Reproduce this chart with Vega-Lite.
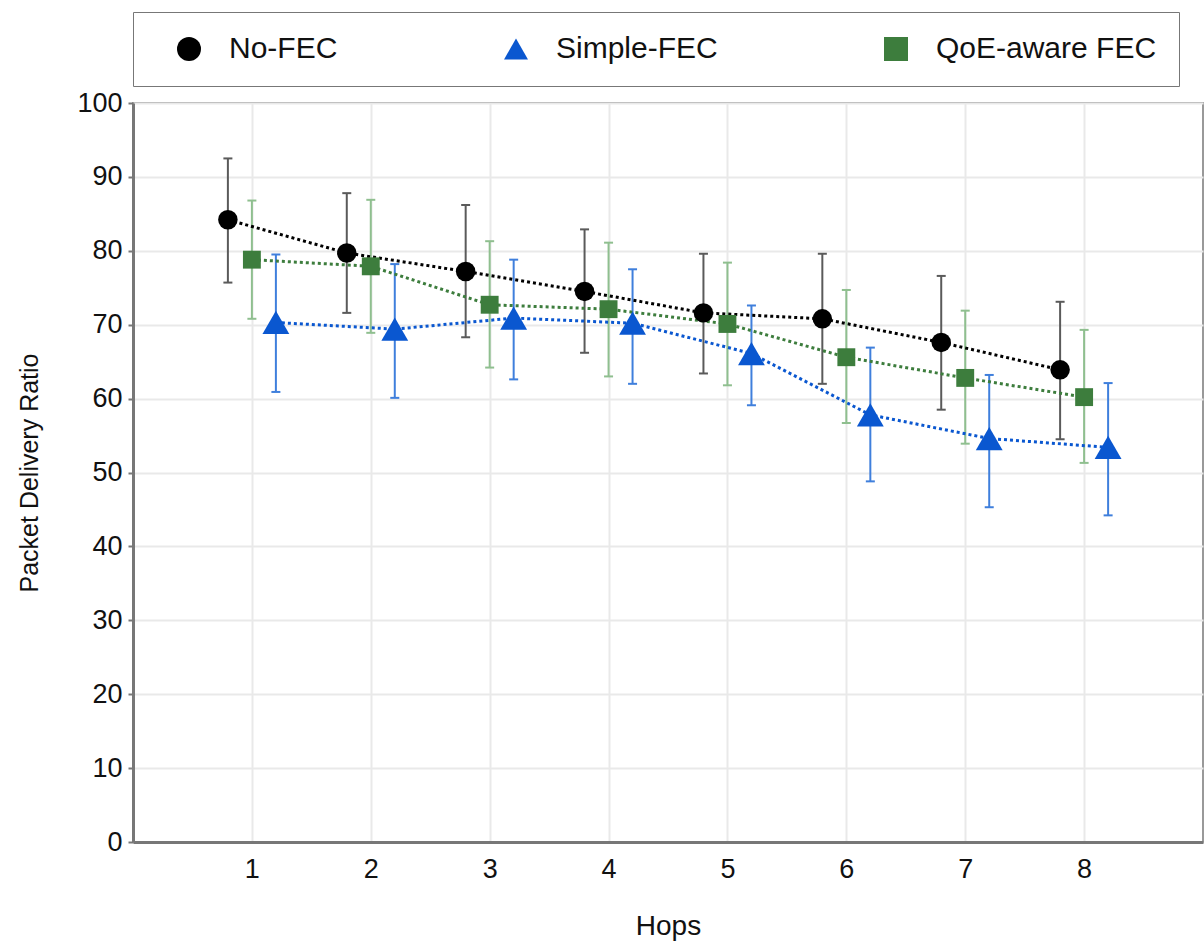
{
  "$schema": "https://vega.github.io/schema/vega-lite/v6.json",
  "width": 1070,
  "height": 739,
  "autosize": "none",
  "padding": {"left": 133, "top": 103, "right": 1, "bottom": 106},
  "background": "white",
  "config": {
    "font": "Liberation Sans",
    "view": {"stroke": "#999", "strokeWidth": 2},
    "axis": {
      "gridColor": "#e9e9e9", "gridWidth": 2,
      "domainColor": "#777", "domainWidth": 3,
      "labelFont": "Liberation Sans", "labelFontSize": 27, "labelColor": "#111",
      "titleFont": "Liberation Sans", "titleFontWeight": "normal", "titleColor": "#111",
      "tickColor": "#777", "tickWidth": 2
    }
  },
  "data": {
    "values": [
      {"hop": 1, "series": "No-FEC", "mean": 84.2, "lo": 75.7, "hi": 92.5},
      {"hop": 2, "series": "No-FEC", "mean": 79.7, "lo": 71.6, "hi": 87.8},
      {"hop": 3, "series": "No-FEC", "mean": 77.2, "lo": 68.3, "hi": 86.2},
      {"hop": 4, "series": "No-FEC", "mean": 74.5, "lo": 66.2, "hi": 82.9},
      {"hop": 5, "series": "No-FEC", "mean": 71.6, "lo": 63.4, "hi": 79.6},
      {"hop": 6, "series": "No-FEC", "mean": 70.8, "lo": 62.0, "hi": 79.6},
      {"hop": 7, "series": "No-FEC", "mean": 67.6, "lo": 58.5, "hi": 76.6},
      {"hop": 8, "series": "No-FEC", "mean": 63.9, "lo": 54.5, "hi": 73.1},
      {"hop": 1, "series": "QoE-aware FEC", "mean": 78.8, "lo": 70.8, "hi": 86.8},
      {"hop": 2, "series": "QoE-aware FEC", "mean": 77.9, "lo": 68.9, "hi": 86.9},
      {"hop": 3, "series": "QoE-aware FEC", "mean": 72.7, "lo": 64.2, "hi": 81.3},
      {"hop": 4, "series": "QoE-aware FEC", "mean": 72.1, "lo": 63.0, "hi": 81.1},
      {"hop": 5, "series": "QoE-aware FEC", "mean": 70.1, "lo": 61.8, "hi": 78.4},
      {"hop": 6, "series": "QoE-aware FEC", "mean": 65.6, "lo": 56.7, "hi": 74.7},
      {"hop": 7, "series": "QoE-aware FEC", "mean": 62.8, "lo": 53.9, "hi": 71.9},
      {"hop": 8, "series": "QoE-aware FEC", "mean": 60.2, "lo": 51.3, "hi": 69.3},
      {"hop": 1, "series": "Simple-FEC", "mean": 70.3, "lo": 60.9, "hi": 79.5},
      {"hop": 2, "series": "Simple-FEC", "mean": 69.4, "lo": 60.1, "hi": 78.2},
      {"hop": 3, "series": "Simple-FEC", "mean": 70.9, "lo": 62.6, "hi": 78.8},
      {"hop": 4, "series": "Simple-FEC", "mean": 70.2, "lo": 62.0, "hi": 77.5},
      {"hop": 5, "series": "Simple-FEC", "mean": 66.1, "lo": 59.1, "hi": 72.6},
      {"hop": 6, "series": "Simple-FEC", "mean": 57.8, "lo": 48.8, "hi": 66.9},
      {"hop": 7, "series": "Simple-FEC", "mean": 54.6, "lo": 45.3, "hi": 63.2},
      {"hop": 8, "series": "Simple-FEC", "mean": 53.4, "lo": 44.2, "hi": 62.1}
    ]
  },
  "encoding": {
    "x": {
      "field": "hop", "type": "quantitative",
      "scale": {"domain": [0, 9], "nice": false, "zero": false},
      "axis": {"values": [1, 2, 3, 4, 5, 6, 7, 8], "ticks": false, "labelPadding": 14, "title": "Hops", "titleFontSize": 28, "titlePadding": 30}
    }
  },
  "layer": [
    {
      "mark": {"type": "rule", "strokeWidth": 2,
        "xOffset": {"expr": "datum.series === 'No-FEC' ? -24 : (datum.series === 'Simple-FEC' ? 24 : 0)"}},
      "encoding": {
        "y": {"field": "lo", "type": "quantitative",
          "scale": {"domain": [0, 100], "nice": false},
          "axis": {"values": [0, 10, 20, 30, 40, 50, 60, 70, 80, 90, 100], "tickSize": 5, "labelPadding": 6, "title": "Packet Delivery Ratio", "titleFontSize": 25, "titlePadding": 34}},
        "y2": {"field": "hi"},
        "stroke": {
          "condition": [
            {"test": "datum.series === 'No-FEC'", "value": "#5a5a5a"},
            {"test": "datum.series === 'Simple-FEC'", "value": "#3f7fdc"}
          ],
          "value": "#8fbf8f"
        }
      }
    },
    {
      "mark": {"type": "tick", "orient": "horizontal", "size": 9, "thickness": 2, "opacity": 1,
        "xOffset": {"expr": "datum.series === 'No-FEC' ? -24 : (datum.series === 'Simple-FEC' ? 24 : 0)"}},
      "encoding": {
        "y": {"field": "lo", "type": "quantitative"},
        "fill": {
          "condition": [
            {"test": "datum.series === 'No-FEC'", "value": "#5a5a5a"},
            {"test": "datum.series === 'Simple-FEC'", "value": "#3f7fdc"}
          ],
          "value": "#8fbf8f"
        }
      }
    },
    {
      "mark": {"type": "tick", "orient": "horizontal", "size": 9, "thickness": 2, "opacity": 1,
        "xOffset": {"expr": "datum.series === 'No-FEC' ? -24 : (datum.series === 'Simple-FEC' ? 24 : 0)"}},
      "encoding": {
        "y": {"field": "hi", "type": "quantitative"},
        "fill": {
          "condition": [
            {"test": "datum.series === 'No-FEC'", "value": "#5a5a5a"},
            {"test": "datum.series === 'Simple-FEC'", "value": "#3f7fdc"}
          ],
          "value": "#8fbf8f"
        }
      }
    },
    {
      "mark": {"type": "line", "strokeDash": [3, 3], "strokeWidth": 3,
        "xOffset": {"expr": "datum.series === 'No-FEC' ? -24 : (datum.series === 'Simple-FEC' ? 24 : 0)"}},
      "encoding": {
        "y": {"field": "mean", "type": "quantitative"},
        "color": {"field": "series", "type": "nominal", "title": null,
          "scale": {"domain": ["No-FEC", "Simple-FEC", "QoE-aware FEC"], "range": ["#000000", "#0a57d0", "#3d7d3d"]}}
      }
    },
    {
      "mark": {"type": "point", "filled": true, "opacity": 1,
        "xOffset": {"expr": "datum.series === 'No-FEC' ? -24 : (datum.series === 'Simple-FEC' ? 24 : 0)"}},
      "encoding": {
        "y": {"field": "mean", "type": "quantitative"},
        "color": {"field": "series", "type": "nominal", "title": null,
          "legend": {
            "orient": "none", "legendX": 0, "legendY": -91, "direction": "horizontal",
            "padding": 22, "strokeColor": "#777", "fillColor": "white",
            "columnPadding": 144, "symbolOffset": 19, "labelOffset": 25, "labelLimit": 500,
            "labelFont": "Liberation Sans", "labelFontSize": 30, "labelColor": "#111",
            "symbolSize": 576, "symbolStrokeWidth": 0
          }},
        "shape": {"field": "series", "type": "nominal", "title": null,
          "scale": {"domain": ["No-FEC", "Simple-FEC", "QoE-aware FEC"], "range": ["circle", "triangle-up", "square"]}},
        "size": {
          "condition": [
            {"test": "datum.series === 'Simple-FEC'", "value": 720},
            {"test": "datum.series === 'QoE-aware FEC'", "value": 320}
          ],
          "value": 380
        }
      }
    }
  ]
}
